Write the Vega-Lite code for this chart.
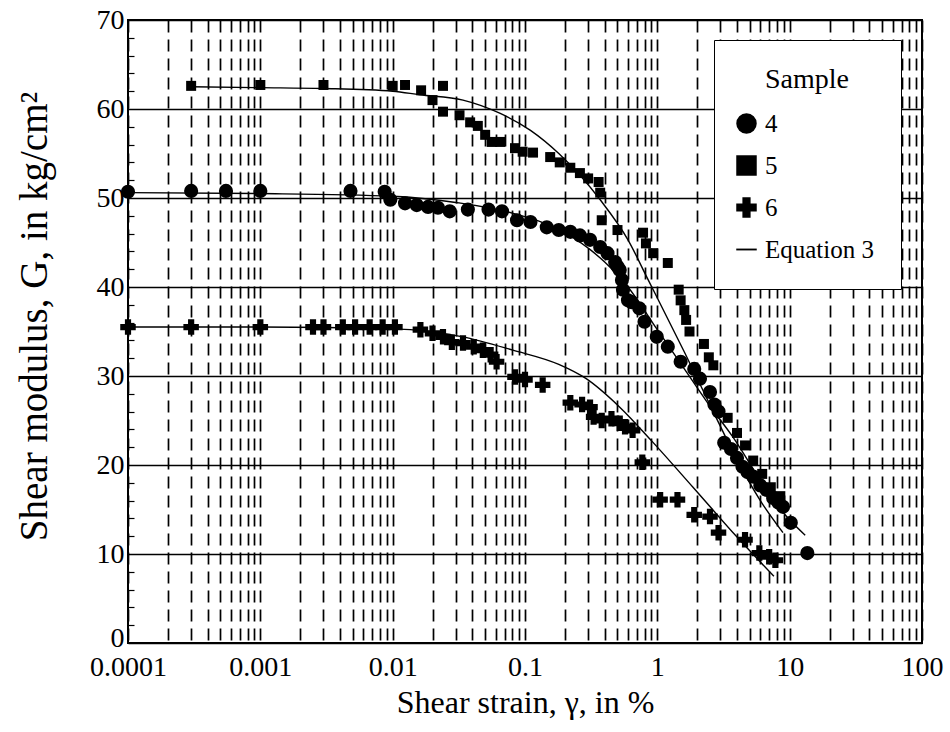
{
  "$schema": "https://vega.github.io/schema/vega-lite/v6.json",
  "width": 794,
  "height": 623,
  "autosize": {"type": "none"},
  "padding": {"left": 128, "top": 20, "right": 28, "bottom": 89},
  "background": "white",
  "config": {
    "view": {"stroke": "black", "strokeWidth": 2},
    "font": "Liberation Serif"
  },
  "datasets": {
    "pts": [
      {"s": "4", "x": 0.0001, "y": 50.7}, {"s": "4", "x": 0.0003, "y": 50.8}, {"s": "4", "x": 0.00055, "y": 50.8},
      {"s": "4", "x": 0.001, "y": 50.8}, {"s": "4", "x": 0.0048, "y": 50.8}, {"s": "4", "x": 0.0087, "y": 50.7},
      {"s": "4", "x": 0.0096, "y": 49.8}, {"s": "4", "x": 0.0124, "y": 49.4}, {"s": "4", "x": 0.0152, "y": 49.2},
      {"s": "4", "x": 0.0185, "y": 49.0}, {"s": "4", "x": 0.022, "y": 48.9}, {"s": "4", "x": 0.027, "y": 48.5},
      {"s": "4", "x": 0.037, "y": 48.7}, {"s": "4", "x": 0.053, "y": 48.7}, {"s": "4", "x": 0.067, "y": 48.5},
      {"s": "4", "x": 0.087, "y": 47.5}, {"s": "4", "x": 0.11, "y": 47.3}, {"s": "4", "x": 0.146, "y": 46.7},
      {"s": "4", "x": 0.18, "y": 46.4}, {"s": "4", "x": 0.22, "y": 46.2}, {"s": "4", "x": 0.26, "y": 45.8},
      {"s": "4", "x": 0.31, "y": 45.3}, {"s": "4", "x": 0.37, "y": 44.5}, {"s": "4", "x": 0.42, "y": 43.8},
      {"s": "4", "x": 0.48, "y": 42.8}, {"s": "4", "x": 0.5, "y": 42.3}, {"s": "4", "x": 0.52, "y": 41.9},
      {"s": "4", "x": 0.54, "y": 40.8}, {"s": "4", "x": 0.55, "y": 39.7}, {"s": "4", "x": 0.6, "y": 38.5},
      {"s": "4", "x": 0.64, "y": 38.3}, {"s": "4", "x": 0.73, "y": 37.6}, {"s": "4", "x": 0.8, "y": 36.1},
      {"s": "4", "x": 0.99, "y": 34.4}, {"s": "4", "x": 1.2, "y": 33.3}, {"s": "4", "x": 1.5, "y": 31.6},
      {"s": "4", "x": 1.9, "y": 30.8}, {"s": "4", "x": 2.1, "y": 29.7}, {"s": "4", "x": 2.5, "y": 28.2},
      {"s": "4", "x": 2.7, "y": 26.8}, {"s": "4", "x": 2.9, "y": 26.0}, {"s": "4", "x": 3.2, "y": 22.5},
      {"s": "4", "x": 3.6, "y": 21.8}, {"s": "4", "x": 4.0, "y": 20.8}, {"s": "4", "x": 4.4, "y": 19.8},
      {"s": "4", "x": 4.8, "y": 19.2}, {"s": "4", "x": 5.3, "y": 18.7}, {"s": "4", "x": 6.0, "y": 17.7},
      {"s": "4", "x": 6.7, "y": 17.2}, {"s": "4", "x": 7.5, "y": 16.3}, {"s": "4", "x": 8.2, "y": 15.8},
      {"s": "4", "x": 8.9, "y": 15.3}, {"s": "4", "x": 10.2, "y": 13.5}, {"s": "4", "x": 13.6, "y": 10.1},

      {"s": "5", "x": 0.0003, "y": 62.6}, {"s": "5", "x": 0.001, "y": 62.7}, {"s": "5", "x": 0.003, "y": 62.7},
      {"s": "5", "x": 0.01, "y": 62.6}, {"s": "5", "x": 0.0124, "y": 62.7}, {"s": "5", "x": 0.0164, "y": 62.1},
      {"s": "5", "x": 0.024, "y": 62.6}, {"s": "5", "x": 0.02, "y": 61.0}, {"s": "5", "x": 0.024, "y": 59.7},
      {"s": "5", "x": 0.032, "y": 59.3}, {"s": "5", "x": 0.0385, "y": 58.5}, {"s": "5", "x": 0.044, "y": 58.1},
      {"s": "5", "x": 0.05, "y": 57.1}, {"s": "5", "x": 0.056, "y": 56.3}, {"s": "5", "x": 0.065, "y": 56.3},
      {"s": "5", "x": 0.084, "y": 55.6}, {"s": "5", "x": 0.096, "y": 55.2}, {"s": "5", "x": 0.115, "y": 55.1},
      {"s": "5", "x": 0.155, "y": 54.6}, {"s": "5", "x": 0.183, "y": 54.0}, {"s": "5", "x": 0.22, "y": 53.4},
      {"s": "5", "x": 0.26, "y": 52.8}, {"s": "5", "x": 0.3, "y": 52.2}, {"s": "5", "x": 0.36, "y": 51.8},
      {"s": "5", "x": 0.37, "y": 50.6}, {"s": "5", "x": 0.38, "y": 47.5}, {"s": "5", "x": 0.5, "y": 46.4},
      {"s": "5", "x": 0.78, "y": 46.1}, {"s": "5", "x": 0.82, "y": 44.9}, {"s": "5", "x": 0.93, "y": 43.8},
      {"s": "5", "x": 1.2, "y": 42.7}, {"s": "5", "x": 1.45, "y": 39.7}, {"s": "5", "x": 1.5, "y": 38.5},
      {"s": "5", "x": 1.6, "y": 37.4}, {"s": "5", "x": 1.65, "y": 36.3}, {"s": "5", "x": 1.75, "y": 35.0},
      {"s": "5", "x": 2.25, "y": 33.6}, {"s": "5", "x": 2.45, "y": 32.1}, {"s": "5", "x": 2.65, "y": 31.2},
      {"s": "5", "x": 3.4, "y": 25.3}, {"s": "5", "x": 4.0, "y": 23.6}, {"s": "5", "x": 4.6, "y": 22.2},
      {"s": "5", "x": 5.3, "y": 20.5}, {"s": "5", "x": 6.2, "y": 19.0}, {"s": "5", "x": 7.2, "y": 17.5},
      {"s": "5", "x": 8.5, "y": 16.5},

      {"s": "6", "x": 0.0001, "y": 35.5}, {"s": "6", "x": 0.0003, "y": 35.5}, {"s": "6", "x": 0.001, "y": 35.5},
      {"s": "6", "x": 0.0025, "y": 35.5}, {"s": "6", "x": 0.003, "y": 35.5}, {"s": "6", "x": 0.0042, "y": 35.5},
      {"s": "6", "x": 0.0052, "y": 35.5}, {"s": "6", "x": 0.0067, "y": 35.5}, {"s": "6", "x": 0.0084, "y": 35.5},
      {"s": "6", "x": 0.0104, "y": 35.5}, {"s": "6", "x": 0.0162, "y": 35.2}, {"s": "6", "x": 0.02, "y": 34.8},
      {"s": "6", "x": 0.024, "y": 34.4}, {"s": "6", "x": 0.028, "y": 33.8}, {"s": "6", "x": 0.034, "y": 33.7},
      {"s": "6", "x": 0.041, "y": 33.3}, {"s": "6", "x": 0.048, "y": 32.9}, {"s": "6", "x": 0.055, "y": 32.4},
      {"s": "6", "x": 0.061, "y": 31.6}, {"s": "6", "x": 0.084, "y": 29.9}, {"s": "6", "x": 0.1, "y": 29.6},
      {"s": "6", "x": 0.136, "y": 29.0}, {"s": "6", "x": 0.22, "y": 27.0}, {"s": "6", "x": 0.27, "y": 26.8},
      {"s": "6", "x": 0.31, "y": 26.5}, {"s": "6", "x": 0.33, "y": 25.4}, {"s": "6", "x": 0.38, "y": 25.0},
      {"s": "6", "x": 0.45, "y": 25.2}, {"s": "6", "x": 0.52, "y": 24.7}, {"s": "6", "x": 0.57, "y": 24.3},
      {"s": "6", "x": 0.65, "y": 23.9}, {"s": "6", "x": 0.77, "y": 20.3}, {"s": "6", "x": 1.05, "y": 16.1},
      {"s": "6", "x": 1.42, "y": 16.1}, {"s": "6", "x": 1.9, "y": 14.4}, {"s": "6", "x": 2.5, "y": 14.2},
      {"s": "6", "x": 2.9, "y": 12.4}, {"s": "6", "x": 4.6, "y": 11.6}, {"s": "6", "x": 5.9, "y": 10.1},
      {"s": "6", "x": 7.0, "y": 9.7}, {"s": "6", "x": 7.8, "y": 9.3}
    ],
    "eq": [
      {"s": "4", "x": 0.0001, "y": 50.6}, {"s": "4", "x": 0.001, "y": 50.5}, {"s": "4", "x": 0.01, "y": 50.2},
      {"s": "4", "x": 0.03, "y": 49.5}, {"s": "4", "x": 0.08, "y": 48.3}, {"s": "4", "x": 0.2, "y": 46.1},
      {"s": "4", "x": 0.4, "y": 42.8}, {"s": "4", "x": 0.6, "y": 40.0}, {"s": "4", "x": 1.0, "y": 35.2},
      {"s": "4", "x": 1.6, "y": 30.8}, {"s": "4", "x": 2.5, "y": 26.6}, {"s": "4", "x": 3.74, "y": 23.1},
      {"s": "4", "x": 6.0, "y": 18.3}, {"s": "4", "x": 9.0, "y": 14.6}, {"s": "4", "x": 13.1, "y": 12.1},

      {"s": "5", "x": 0.0003, "y": 62.5}, {"s": "5", "x": 0.001, "y": 62.4}, {"s": "5", "x": 0.003, "y": 62.3},
      {"s": "5", "x": 0.01, "y": 62.0}, {"s": "5", "x": 0.016, "y": 61.6}, {"s": "5", "x": 0.034, "y": 61.0},
      {"s": "5", "x": 0.065, "y": 59.5}, {"s": "5", "x": 0.11, "y": 57.6}, {"s": "5", "x": 0.18, "y": 55.0},
      {"s": "5", "x": 0.37, "y": 49.8}, {"s": "5", "x": 0.6, "y": 45.3}, {"s": "5", "x": 0.84, "y": 41.0},
      {"s": "5", "x": 1.6, "y": 32.7}, {"s": "5", "x": 2.83, "y": 25.1}, {"s": "5", "x": 4.0, "y": 20.6},
      {"s": "5", "x": 6.0, "y": 16.0}, {"s": "5", "x": 8.9, "y": 12.4},

      {"s": "6", "x": 0.0001, "y": 35.5}, {"s": "6", "x": 0.001, "y": 35.5}, {"s": "6", "x": 0.01, "y": 35.3},
      {"s": "6", "x": 0.034, "y": 34.4}, {"s": "6", "x": 0.081, "y": 32.9}, {"s": "6", "x": 0.18, "y": 31.3},
      {"s": "6", "x": 0.29, "y": 29.7}, {"s": "6", "x": 0.52, "y": 26.5}, {"s": "6", "x": 0.92, "y": 22.6},
      {"s": "6", "x": 1.86, "y": 17.5}, {"s": "6", "x": 4.0, "y": 11.9}, {"s": "6", "x": 7.6, "y": 7.5}
    ]
  },
  "encoding": {
    "x": {
      "field": "x",
      "type": "quantitative",
      "scale": {"type": "log", "domain": [0.0001, 100], "nice": false},
      "axis": {
        "values": [0.0001, 0.0002, 0.0003, 0.0004, 0.0005, 0.0006, 0.0007, 0.0008, 0.0009,
                   0.001, 0.002, 0.003, 0.004, 0.005, 0.006, 0.007, 0.008, 0.009,
                   0.01, 0.02, 0.03, 0.04, 0.05, 0.06, 0.07, 0.08, 0.09,
                   0.1, 0.2, 0.3, 0.4, 0.5, 0.6, 0.7, 0.8, 0.9,
                   1, 2, 3, 4, 5, 6, 7, 8, 9,
                   10, 20, 30, 40, 50, 60, 70, 80, 90, 100],
        "format": "~g",
        "labelExpr": "indexof(['0.0001','0.001','0.01','0.1','1','10','100'], datum.label) >= 0 ? datum.label : ''",
        "labelFont": "Liberation Serif",
        "labelFontSize": 28,
        "labelColor": "black",
        "labelOverlap": false,
        "labelFlush": false,
        "labelPadding": 10,
        "ticks": false,
        "domain": false,
        "grid": true,
        "gridColor": "black",
        "gridDash": [12, 7],
        "gridWidth": 1.7,
        "gridOpacity": 1,
        "title": "Shear strain,  γ, in %",
        "titleFont": "Liberation Serif",
        "titleFontSize": 32,
        "titleFontWeight": "normal",
        "titleColor": "black",
        "titleBaseline": "alphabetic",
        "titleY": 69
      }
    },
    "y": {
      "field": "y",
      "type": "quantitative",
      "scale": {"domain": [0, 70], "nice": false, "zero": true},
      "axis": {
        "values": [0, 2, 4, 6, 8, 10, 12, 14, 16, 18, 20, 22, 24, 26, 28, 30, 32, 34, 36, 38, 40, 42, 44, 46, 48, 50, 52, 54, 56, 58, 60, 62, 64, 66, 68, 70],
        "labelExpr": "datum.value % 10 === 0 ? datum.label : ''",
        "labelFont": "Liberation Serif",
        "labelFontSize": 28,
        "labelColor": "black",
        "labelOverlap": false,
        "labelPadding": 10,
        "labelOffset": {"condition": {"test": "datum.value === 0", "value": -5}, "value": 0},
        "ticks": true,
        "tickSize": -6,
        "tickColor": "black",
        "tickWidth": 1.2,
        "tickOpacity": {"condition": {"test": "datum.value % 10 === 0", "value": 0}, "value": 1},
        "domain": false,
        "grid": true,
        "gridColor": "black",
        "gridWidth": 1.5,
        "gridOpacity": {"condition": {"test": "datum.value % 10 === 0", "value": 1}, "value": 0},
        "title": "Shear modulus, G, in kg/cm²",
        "titleFont": "Liberation Serif",
        "titleFontSize": 39,
        "titleFontWeight": "normal",
        "titleColor": "black",
        "titleAngle": -90,
        "titleAlign": "center",
        "titleBaseline": "middle",
        "titleX": -94,
        "titleY": 296
      }
    }
  },
  "layer": [
    {
      "data": {"name": "eq"},
      "mark": {"type": "line", "color": "black", "strokeWidth": 1.4, "interpolate": "monotone", "clip": true},
      "encoding": {"detail": {"field": "s", "type": "nominal"}}
    },
    {
      "data": {"name": "pts"},
      "transform": [{"filter": "datum.s === '4'"}],
      "mark": {"type": "point", "filled": true, "color": "black", "opacity": 1, "size": 200},
      "encoding": {
        "shape": {
          "field": "s",
          "type": "nominal",
          "scale": {"domain": ["4", "5", "6", "Equation 3"], "range": ["circle", "square", "cross", "M-1,-0.09H1V0.09H-1Z"]},
          "legend": {
            "title": "Sample",
            "orient": "none",
            "legendX": 586,
            "legendY": 20,
            "padding": 26,
            "symbolOffset": -6,
            "titleAnchor": "middle",
            "titleFont": "Liberation Serif",
            "titleFontSize": 28,
            "titleFontWeight": "normal",
            "titleColor": "black",
            "titlePadding": 17,
            "labelFont": "Liberation Serif",
            "labelFontSize": 25,
            "labelColor": "black",
            "labelOffset": 6,
            "rowPadding": 16,
            "symbolSize": 420,
            "symbolStrokeColor": "black",
            "symbolStrokeWidth": 0,
            "strokeColor": "black",
            "fillColor": "white",
            "encode": {
              "legend": {
                "update": {
                  "strokeWidth": {"value": 2}
                }
              },
              "symbols": {
                "update": {
                  "fill": {"value": "black"},
                  "size": {"signal": "datum.value === '5' ? 170 : datum.value === '6' ? 480 : datum.value === '4' ? 420 : 500"}
                }
              }
            }
          }
        }
      }
    },
    {
      "data": {"name": "pts"},
      "transform": [{"filter": "datum.s === '5'"}],
      "mark": {"type": "point", "filled": true, "color": "black", "opacity": 1, "size": 100},
      "encoding": {"shape": {"field": "s", "type": "nominal"}}
    },
    {
      "data": {"name": "pts"},
      "transform": [{"filter": "datum.s === '6'"}],
      "mark": {"type": "point", "filled": true, "color": "black", "opacity": 1, "size": 240},
      "encoding": {"shape": {"field": "s", "type": "nominal"}}
    }
  ]
}
